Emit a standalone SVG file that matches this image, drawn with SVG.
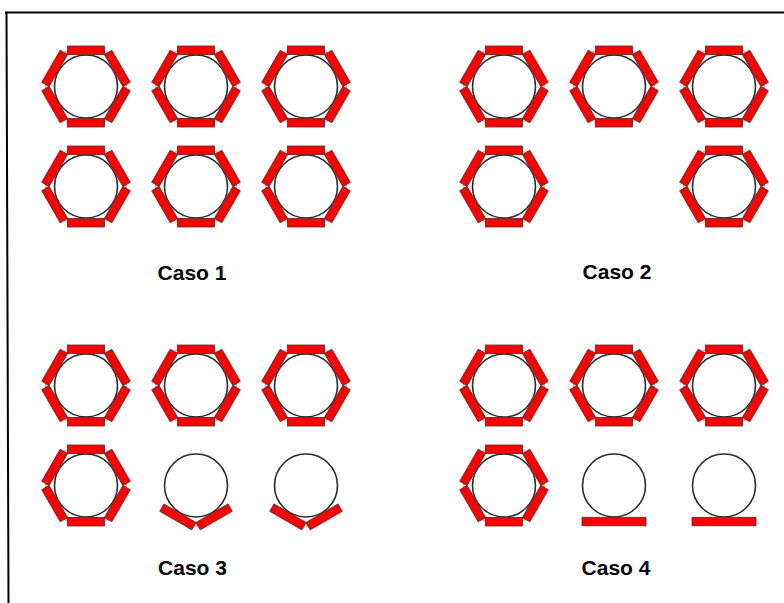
<svg xmlns="http://www.w3.org/2000/svg" xmlns:xlink="http://www.w3.org/1999/xlink" width="784" height="603" viewBox="0 0 784 603">
<style>
.bar{fill:#ff0000;stroke:#5a2a2a;stroke-width:0.8}
.ring{fill:#ffffff;stroke:#2a2a2a;stroke-width:1.6}
.hex{fill:none;stroke:#8a8a8a;stroke-width:0.8}
.tip{fill:#e6e6e6;stroke:#8a8a8a;stroke-width:0.6}
.lbl{font-family:"Liberation Sans",Arial,sans-serif;font-weight:bold;font-size:21px;fill:#000;text-anchor:middle}
</style>
<defs>
<rect id="b" class="bar" x="-18.5" y="-40.5" width="37" height="8.5"/>
<polygon id="t" class="tip" points="18.48,-32 18.48,-36 21.94,-34"/>
<g id="full">
<circle class="ring" cx="0" cy="0" r="31.5"/>
<polygon class="hex" points="36.95,0 18.48,32 -18.48,32 -36.95,0 -18.48,-32 18.48,-32"/>
<use xlink:href="#t"/><use xlink:href="#t" transform="rotate(60)"/><use xlink:href="#t" transform="rotate(120)"/>
<use xlink:href="#t" transform="rotate(180)"/><use xlink:href="#t" transform="rotate(240)"/><use xlink:href="#t" transform="rotate(300)"/>
<use xlink:href="#b"/><use xlink:href="#b" transform="rotate(60)"/><use xlink:href="#b" transform="rotate(120)"/>
<use xlink:href="#b" transform="rotate(180)"/><use xlink:href="#b" transform="rotate(240)"/><use xlink:href="#b" transform="rotate(300)"/>
</g>
<g id="vee">
<circle class="ring" cx="0" cy="0" r="31.5"/>
<polygon class="tip" points="0,37 -2,40.5 2,40.5"/>
<use xlink:href="#b" transform="rotate(150)"/>
<use xlink:href="#b" transform="rotate(210)"/>
</g>
<g id="flat">
<circle class="ring" cx="0" cy="0" r="31.5"/>
<rect class="bar" x="-32" y="31.8" width="64" height="8.5"/>
</g>
</defs>
<g id="frame">
<path d="M5,12.5 H784 M6.5,12.5 L8.5,603" fill="none" stroke="#000" stroke-width="2"/>
</g>
<g id="caso1">
<g id="c1-u1"><use xlink:href="#full" x="86" y="86.5"/></g>
<g id="c1-u2"><use xlink:href="#full" x="196" y="86.5"/></g>
<g id="c1-u3"><use xlink:href="#full" x="306" y="86.5"/></g>
<g id="c1-u4"><use xlink:href="#full" x="86" y="186.5"/></g>
<g id="c1-u5"><use xlink:href="#full" x="196" y="186.5"/></g>
<g id="c1-u6"><use xlink:href="#full" x="306" y="186.5"/></g>
<text class="lbl" x="192" y="280">Caso 1</text>
</g>
<g id="caso2">
<g id="c2-u1"><use xlink:href="#full" x="504" y="86.5"/></g>
<g id="c2-u2"><use xlink:href="#full" x="614" y="86.5"/></g>
<g id="c2-u3"><use xlink:href="#full" x="724" y="86.5"/></g>
<g id="c2-u4"><use xlink:href="#full" x="504" y="186.5"/></g>
<g id="c2-u6"><use xlink:href="#full" x="724" y="186.5"/></g>
<text class="lbl" x="617" y="279">Caso 2</text>
</g>
<g id="caso3">
<g id="c3-u1"><use xlink:href="#full" x="86" y="385.5"/></g>
<g id="c3-u2"><use xlink:href="#full" x="196" y="385.5"/></g>
<g id="c3-u3"><use xlink:href="#full" x="306" y="385.5"/></g>
<g id="c3-u4"><use xlink:href="#full" x="86" y="485.5"/></g>
<g id="c3-u5"><use xlink:href="#vee" x="196" y="485.5"/></g>
<g id="c3-u6"><use xlink:href="#vee" x="306" y="485.5"/></g>
<text class="lbl" x="192.5" y="575">Caso 3</text>
</g>
<g id="caso4">
<g id="c4-u1"><use xlink:href="#full" x="504" y="385.5"/></g>
<g id="c4-u2"><use xlink:href="#full" x="614" y="385.5"/></g>
<g id="c4-u3"><use xlink:href="#full" x="724" y="385.5"/></g>
<g id="c4-u4"><use xlink:href="#full" x="504" y="485.5"/></g>
<g id="c4-u5"><use xlink:href="#flat" x="614" y="485.5"/></g>
<g id="c4-u6"><use xlink:href="#flat" x="724" y="485.5"/></g>
<text class="lbl" x="616" y="575">Caso 4</text>
</g>
</svg>
